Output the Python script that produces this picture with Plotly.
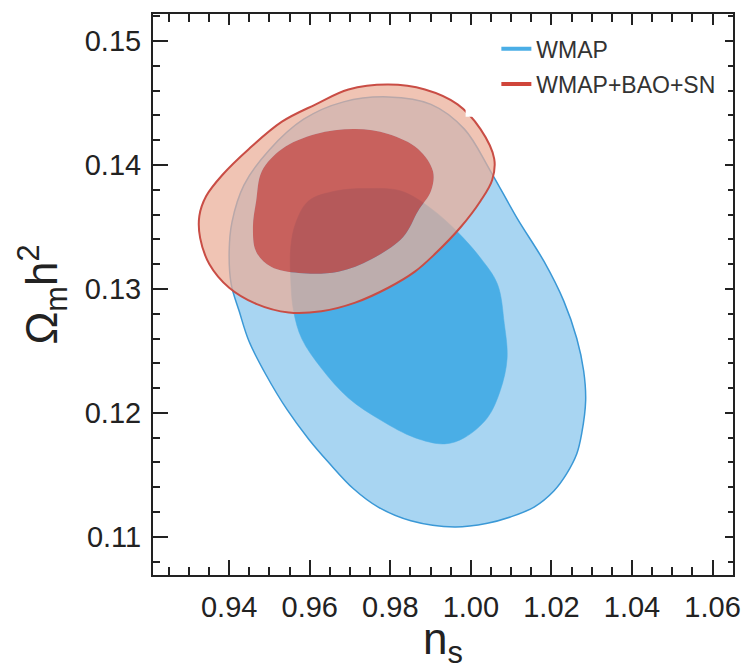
import plotly.graph_objects as go

# ---- data: contour boundaries (n_s, Omega_m h^2) ----
wmap95_ns = [0.9795, 0.9901, 0.9984, 1.0049, 1.0115, 1.0182, 1.0231, 1.0263, 1.0280, 1.0285,
             1.0275, 1.0263, 1.0238, 1.0206, 1.0157, 1.0098, 1.0041, 0.9960, 0.9851, 0.9770,
             0.9708, 0.9647, 0.9597, 0.9543, 0.9491, 0.9449, 0.9425, 0.9405, 0.9400, 0.9407,
             0.9437, 0.9499, 0.9585, 0.9684, 0.9795]
wmap95_om = [0.1455, 0.1449, 0.1429, 0.1395, 0.1357, 0.1322, 0.1290, 0.1260, 0.1234, 0.1210,
             0.1183, 0.1167, 0.1151, 0.1137, 0.1124, 0.1116, 0.1111, 0.1108, 0.1113, 0.1124,
             0.1139, 0.1160, 0.1179, 0.1203, 0.1231, 0.1258, 0.1282, 0.1304, 0.1330, 0.1354,
             0.1384, 0.1412, 0.1437, 0.1451, 0.1455]

wmap68_ns = [0.9738, 0.9827, 0.9901, 0.9967, 1.0024, 1.0066, 1.0083, 1.0090, 1.0073, 1.0041,
             0.9984, 0.9935, 0.9861, 0.9777, 0.9696, 0.9629, 0.9580, 0.9560, 0.9553, 0.9553,
             0.9565, 0.9597, 0.9664, 0.9738]
wmap68_om = [0.1381, 0.1379, 0.1365, 0.1346, 0.1325, 0.1304, 0.1272, 0.1244, 0.1218, 0.1196,
             0.1180, 0.1175, 0.1180, 0.1194, 0.1212, 0.1236, 0.1260, 0.1282, 0.1306, 0.1334,
             0.1353, 0.1371, 0.1379, 0.1381]

comb95_ns = [0.9795, 0.9886, 0.9967, 1.0024, 1.0058, 1.0053, 1.0024, 0.9975, 0.9910, 0.9861,
             0.9795, 0.9713, 0.9629, 0.9548, 0.9467, 0.9400, 0.9351, 0.9328, 0.9326, 0.9343,
             0.9383, 0.9449, 0.9531, 0.9615, 0.9696, 0.9795]
comb95_om = [0.1465, 0.1461, 0.1449, 0.1429, 0.1405, 0.1388, 0.1371, 0.1350, 0.1328, 0.1314,
             0.1301, 0.1289, 0.1282, 0.1281, 0.1288, 0.1301, 0.1320, 0.1341, 0.1359, 0.1375,
             0.1392, 0.1413, 0.1435, 0.1449, 0.1461, 0.1465]

comb68_ns = [0.9713, 0.9795, 0.9869, 0.9906, 0.9901, 0.9869, 0.9832, 0.9753, 0.9671, 0.9573,
             0.9504, 0.9467, 0.9459, 0.9467, 0.9481, 0.9531, 0.9615, 0.9713]
comb68_om = [0.1429, 0.1425, 0.1413, 0.1395, 0.1379, 0.1363, 0.1342, 0.1324, 0.1314, 0.1313,
             0.1318, 0.1330, 0.1350, 0.1371, 0.1395, 0.1413, 0.1425, 0.1429]

series_names = ["WMAP", "WMAP+BAO+SN"]
x_range = [0.92109, 1.06508]
y_range = [0.10692, 0.15219]
legend_box_ns = 0.9987      # left edge of the white legend panel
legend_box_om = 0.14389     # bottom edge of the white legend panel

# ---- styling ----
BLUE_LIGHT = "#a8d5f2"
BLUE_DARK = "#4aaee6"
BLUE_EDGE = "#3a98d6"
RED_RING = "rgba(234,173,151,0.72)"
RED_CORE = "rgba(208,67,55,0.80)"
RED_EDGE = "#c94d45"
INK = "#222222"
FONT = "Liberation Sans, Arial, Helvetica, sans-serif"

fig = go.Figure()

# WMAP 95% and 68%
fig.add_trace(go.Scatter(x=wmap95_ns, y=wmap95_om, mode="lines", fill="toself",
                         fillcolor=BLUE_LIGHT, line=dict(color=BLUE_EDGE, width=1.5, shape="spline"),
                         showlegend=False, hoverinfo="skip"))
fig.add_trace(go.Scatter(x=wmap68_ns, y=wmap68_om, mode="lines", fill="toself",
                         fillcolor=BLUE_DARK, line=dict(color=BLUE_DARK, width=0.5, shape="spline"),
                         showlegend=False, hoverinfo="skip"))

# WMAP+BAO+SN 95% ring (outer boundary with the 68% region as a hole)
ring_x = comb95_ns + [None] + comb68_ns[::-1]
ring_y = comb95_om + [None] + comb68_om[::-1]
fig.add_trace(go.Scatter(x=ring_x, y=ring_y, mode="lines", fill="toself",
                         fillcolor=RED_RING, line=dict(width=0, shape="spline"),
                         showlegend=False, hoverinfo="skip"))
fig.add_trace(go.Scatter(x=comb68_ns, y=comb68_om, mode="lines", fill="toself",
                         fillcolor=RED_CORE, line=dict(width=0, shape="spline"),
                         showlegend=False, hoverinfo="skip"))
fig.add_trace(go.Scatter(x=comb95_ns, y=comb95_om, mode="lines",
                         line=dict(color=RED_EDGE, width=2, shape="spline"),
                         showlegend=False, hoverinfo="skip"))

# white legend panel
fig.add_trace(go.Scatter(x=[legend_box_ns, x_range[1], x_range[1], legend_box_ns, legend_box_ns],
                         y=[legend_box_om, legend_box_om, y_range[1], y_range[1], legend_box_om],
                         mode="lines", fill="toself", fillcolor="white", line=dict(width=0),
                         showlegend=False, hoverinfo="skip"))

# legend entries
fig.add_trace(go.Scatter(x=[None], y=[None], mode="lines", name=series_names[0],
                         line=dict(color=BLUE_DARK, width=4), legend="legend"))
fig.add_trace(go.Scatter(x=[None], y=[None], mode="lines", name=series_names[1],
                         line=dict(color="#d0453a", width=4), legend="legend2"))

# helper traces for mirrored tick axes
fig.add_trace(go.Scatter(x=[None], y=[None], xaxis="x2", yaxis="y", showlegend=False, hoverinfo="skip"))
fig.add_trace(go.Scatter(x=[None], y=[None], xaxis="x", yaxis="y2", showlegend=False, hoverinfo="skip"))

axis_common = dict(showgrid=False, zeroline=False, ticks="inside", tickwidth=2, tickcolor=INK)

fig.update_layout(
    width=753, height=670,
    margin=dict(l=153, r=16, t=12, b=95),
    paper_bgcolor="white", plot_bgcolor="white",
    font=dict(family=FONT, color=INK),
    xaxis=dict(**axis_common, range=x_range, tick0=0.94, dtick=0.02, tickformat=".2f",
               ticklen=15, showline=True, linewidth=2, linecolor=INK, mirror=True,
               tickfont=dict(size=29, family=FONT, color=INK), ticklabelstandoff=5,
               minor=dict(ticks="inside", ticklen=8, tickwidth=1.5, tickcolor=INK, dtick=0.005, tick0=0.94, showgrid=False),
               title=dict(text="n<sub>s</sub>", font=dict(size=44, family=FONT, color=INK), standoff=0)),
    yaxis=dict(**axis_common, range=y_range, tick0=0.11, dtick=0.01, tickformat=".2f",
               ticklen=15, showline=True, linewidth=2, linecolor=INK, mirror=True,
               tickfont=dict(size=29, family=FONT, color=INK), ticklabelstandoff=4,
               minor=dict(ticks="inside", ticklen=7, tickwidth=1.5, tickcolor=INK, dtick=0.002, tick0=0.11, showgrid=False),
               title=dict(text="Ω<sub>m</sub>h<sup>2</sup>", font=dict(size=44, family=FONT, color=INK), standoff=13)),
    xaxis2=dict(**axis_common, range=x_range, overlaying="x", side="top", anchor="y",
                tick0=0.94, dtick=0.02, ticklen=11, showticklabels=False, showline=False,
                minor=dict(ticks="inside", ticklen=8, tickwidth=1.5, tickcolor=INK, dtick=0.005, tick0=0.94, showgrid=False)),
    yaxis2=dict(**axis_common, range=y_range, overlaying="y", side="right", anchor="x",
                tick0=0.11, dtick=0.01, ticklen=8, showticklabels=False, showline=False,
                minor=dict(ticks="inside", ticklen=5, tickwidth=1.5, tickcolor=INK, dtick=0.002, tick0=0.11, showgrid=False)),
    legend=dict(x=0.592, y=0.938, xanchor="left", yanchor="middle", bgcolor="rgba(0,0,0,0)",
                font=dict(size=23, family=FONT, color="#333333")),
    legend2=dict(x=0.592, y=0.875, xanchor="left", yanchor="middle", bgcolor="rgba(0,0,0,0)",
                 font=dict(size=23, family=FONT, color="#333333")),
)

fig.write_html("out.html", config={"displayModeBar": False},
               post_script="document.body.style.margin='0';document.body.style.padding='0';")
